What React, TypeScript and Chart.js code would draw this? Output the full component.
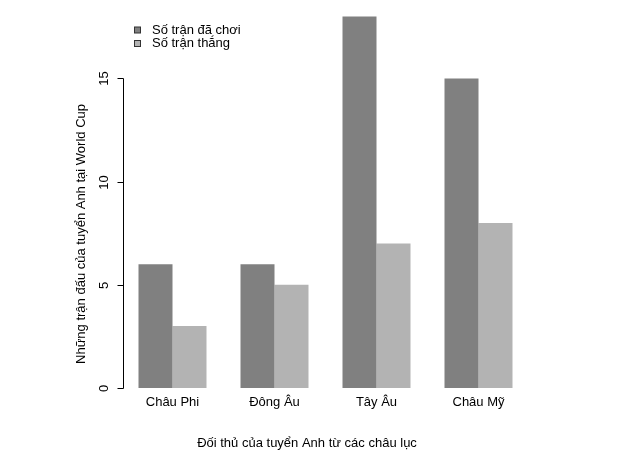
import { useEffect, useRef } from "react";
import { Chart, registerables } from "chart.js";

Chart.register(...registerables);

const CATEGORIES = ["Châu Phi", "Đông Âu", "Tây Âu", "Châu Mỹ"];
const PLAYED = [6, 6, 18, 15];
const WON = [3, 5, 7, 8];
const SERIES_LABELS = ["Số trận đã chơi", "Số trận thắng"];
const SERIES_COLORS = ["#808080", "#b3b3b3"];
const Y_TICKS = [0, 5, 10, 15];
const X_TITLE = "Đối thủ của tuyển Anh từ các châu lục";
const Y_TITLE = "Những trận đấu của tuyển Anh tại World Cup";

const FONT_FAMILY = '"Liberation Sans", Arial, Helvetica, sans-serif';

const baseRPlugin = {
  id: "baseRDecor",
  afterDraw(chart: any) {
    const ctx = chart.ctx as CanvasRenderingContext2D;
    const y = chart.scales.y;
    const area = chart.chartArea;
    ctx.save();
    ctx.font = `13px ${FONT_FAMILY}`;
    ctx.fillStyle = "#000";
    ctx.strokeStyle = "#000";
    ctx.lineWidth = 1;

    // y axis line from first to last tick
    const axisX = Math.round(area.left + 1.5) + 0.5;
    const yTop = y.getPixelForValue(Y_TICKS[Y_TICKS.length - 1]);
    const yBot = y.getPixelForValue(Y_TICKS[0]);
    ctx.beginPath();
    ctx.moveTo(axisX, Math.round(yTop) + 0.5);
    ctx.lineTo(axisX, Math.round(yBot) + 0.5);
    ctx.stroke();

    // tick marks and rotated labels
    for (const v of Y_TICKS) {
      const py = Math.round(y.getPixelForValue(v)) + 0.5;
      ctx.beginPath();
      ctx.moveTo(axisX - 6, py);
      ctx.lineTo(axisX, py);
      ctx.stroke();
      ctx.save();
      ctx.translate(axisX - 19, py);
      ctx.rotate(-Math.PI / 2);
      ctx.textAlign = "center";
      ctx.textBaseline = "middle";
      ctx.fillText(String(v), 0, 0);
      ctx.restore();
    }

    // axis titles
    ctx.textAlign = "center";
    ctx.textBaseline = "middle";
    ctx.fillText(X_TITLE, 307, 443);
    ctx.save();
    ctx.translate(81, 234);
    ctx.rotate(-Math.PI / 2);
    ctx.fillText(Y_TITLE, 0, 0);
    ctx.restore();

    // legend
    const ds = chart.data.datasets;
    ds.forEach((d: any, i: number) => {
      const cy = 30 + i * 13.5;
      ctx.fillStyle = d.backgroundColor;
      ctx.fillRect(134.5, cy - 3, 6, 6);
      ctx.strokeStyle = "#333";
      ctx.strokeRect(134.5, cy - 3, 6, 6);
      ctx.fillStyle = "#000";
      ctx.textAlign = "left";
      ctx.textBaseline = "middle";
      ctx.fillText(d.label, 152, cy);
    });
    ctx.restore();
  },
};

export default function App() {
  const canvasRef = useRef<HTMLCanvasElement | null>(null);

  useEffect(() => {
    if (!canvasRef.current) return;
    const chart = new Chart(canvasRef.current, {
      type: "bar",
      data: {
        labels: CATEGORIES,
        datasets: [
          {
            label: SERIES_LABELS[0],
            data: PLAYED,
            backgroundColor: SERIES_COLORS[0],
            borderWidth: 0,
            categoryPercentage: 68 / 102,
            barPercentage: 1,
          },
          {
            label: SERIES_LABELS[1],
            data: WON,
            backgroundColor: SERIES_COLORS[1],
            borderWidth: 0,
            categoryPercentage: 68 / 102,
            barPercentage: 1,
          },
        ],
      },
      options: {
        responsive: false,
        animation: false,
        layout: { padding: { left: 121.5, right: 104.5, top: 0, bottom: 0 } },
        plugins: {
          legend: { display: false },
          tooltip: { enabled: false },
          title: { display: false },
        },
        scales: {
          x: {
            type: "category",
            grid: { display: false, drawTicks: false },
            border: { display: false },
            ticks: {
              color: "#000",
              font: { family: FONT_FAMILY, size: 13 },
              padding: 7,
              maxRotation: 0,
              minRotation: 0,
              autoSkip: false,
            },
            afterFit: (s: any) => {
              s.height = 71;
            },
          },
          y: {
            display: false,
            min: 0,
            max: 18.8,
          },
        },
      },
      plugins: [baseRPlugin],
    });
    return () => chart.destroy();
  }, []);

  return (
    <div style={{ position: "fixed", left: 0, top: 0, width: 634, height: 459, background: "#fff" }}>
      <canvas ref={canvasRef} width={634} height={459} />
    </div>
  );
}
